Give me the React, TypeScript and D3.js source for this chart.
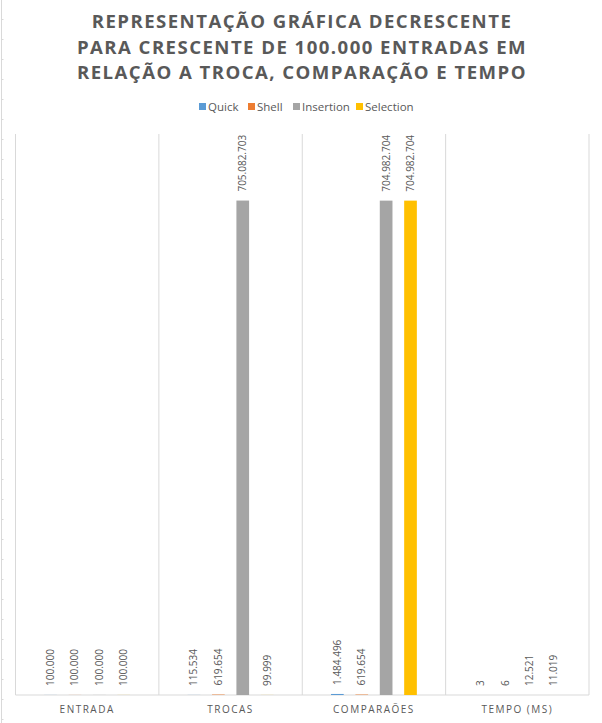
import { scaleBand, scaleLinear, formatLocale, range } from "d3";

const categories = ["ENTRADA", "TROCAS", "COMPARAÇÕES", "TEMPO (MS)"];
const seriesNames = ["Quick", "Shell", "Insertion", "Selection"];
const seriesColors = ["#5b9bd5", "#ed7d31", "#a5a5a5", "#ffc000"];

const quickValues = [100000, 115534, 1484496, 3];
const shellValues = [100000, 619654, 619654, 6];
const insertionValues = [100000, 705082703, 704982704, 12521];
const selectionValues = [100000, 99999, 704982704, 11019];

const titleLines = [
    "REPRESENTAÇÃO GRÁFICA DECRESCENTE",
    "PARA CRESCENTE DE 100.000 ENTRADAS EM",
    "RELAÇÃO A TROCA, COMPARAÇÃO E TEMPO",
];

const yMax = 800000000;

const ptBR = formatLocale({
    decimal: ",",
    thousands: ".",
    grouping: [3],
    currency: ["R$", ""],
});
const fmt = ptBR.format(",d");

export default function App() {
    const width = 602;
    const height = 723;
    const plotLeft = 15.5;
    const plotRight = 589;
    const plotTop = 134;
    const plotBottom = 695;
    const textColor = "#595959";
    const gridColor = "#d9d9d9";
    const font = "'Open Sans', 'Noto Sans', sans-serif";

    const allSeries = [quickValues, shellValues, insertionValues, selectionValues];

    const x = scaleBand<string>(categories, [plotLeft, plotRight]);
    const inner = scaleBand<string>(seriesNames, [0, x.bandwidth()])
        .paddingInner(0.48)
        .paddingOuter(1.18);
    const y = scaleLinear([0, yMax], [plotBottom, plotTop]);

    const legendX = [199, 248, 293, 356];

    return (
        <svg
            width={width}
            height={height}
            style={{ position: "absolute", left: 0, top: 0, background: "#fff" }}
            fontFamily={font}
        >
            {/* sheet edge */}
            <line x1={1.5} x2={1.5} y1={0} y2={height} stroke={gridColor} />
            {range(0, 36).map((i) => (
                <line
                    key={i}
                    x1={1}
                    x2={3.5}
                    y1={19.5 + i * 20}
                    y2={19.5 + i * 20}
                    stroke={gridColor}
                />
            ))}

            <g fill={textColor} fontWeight="bold" fontSize="18.6" letterSpacing="1.45" textAnchor="middle">
                {titleLines.map((t, i) => (
                    <text key={i} x={width / 2 + 1} y={28 + i * 25.5}>
                        {t}
                    </text>
                ))}
            </g>

            <g fontSize="11.5" fill={textColor}>
                {seriesNames.map((s, i) => (
                    <g key={s}>
                        <rect x={legendX[i]} y={103} width={7} height={7} fill={seriesColors[i]} />
                        <text x={legendX[i] + 9} y={110.5}>
                            {s}
                        </text>
                    </g>
                ))}
            </g>

            <g stroke={gridColor} strokeWidth={1}>
                {categories.map((c) => (
                    <line key={c} x1={x(c)} x2={x(c)} y1={plotTop} y2={plotBottom} />
                ))}
                <line x1={plotRight} x2={plotRight} y1={plotTop} y2={plotBottom} />
                <line x1={plotLeft} x2={plotRight} y1={plotBottom} y2={plotBottom} />
            </g>

            {allSeries.map((vals, si) => (
                <g key={si}>
                    {vals.map((v, ci) => {
                        const bx = (x(categories[ci]) ?? 0) + (inner(seriesNames[si]) ?? 0);
                        const bw = inner.bandwidth();
                        const top = y(v);
                        const cx = bx + bw / 2;
                        const ly = top - 9;
                        return (
                            <g key={ci}>
                                <rect x={bx} y={top} width={bw} height={plotBottom - top} fill={seriesColors[si]} />
                                <text
                                    transform={`translate(${cx},${ly}) rotate(-90)`}
                                    dy="0.35em"
                                    fontSize="10"
                                    fill={textColor}
                                >
                                    {fmt(v)}
                                </text>
                            </g>
                        );
                    })}
                </g>
            ))}

            <g fontSize="10" fill={textColor} letterSpacing="1.5" textAnchor="middle">
                {categories.map((c) => (
                    <text key={c} x={(x(c) ?? 0) + x.bandwidth() / 2} y={713}>
                        {c === "COMPARAÇÕES" ? "COMPARAÕES" : c}
                    </text>
                ))}
            </g>
        </svg>
    );
}
